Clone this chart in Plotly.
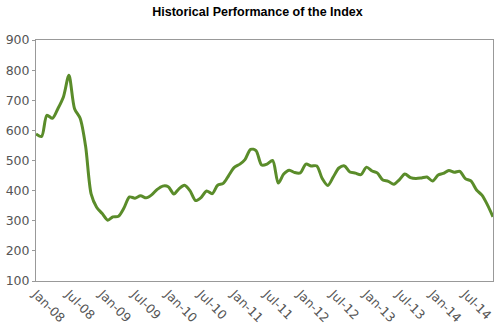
import pandas as pd
import plotly.graph_objects as go

title_text = "Historical Performance of the Index"
start_month = "2008-01-01"
n_months = 84
index_values = [
    588, 580, 650, 640, 672, 712, 783, 672, 640, 548, 388, 345,   # 2008
    324, 302, 313, 315, 342, 379, 375, 383, 376, 386, 404, 415,   # 2009
    413, 389, 406, 418, 400, 367, 377, 399, 390, 418, 424, 450,   # 2010
    477, 488, 503, 537, 533, 485, 488, 500, 425, 455, 468, 460,   # 2011
    459, 488, 482, 482, 440, 417, 445, 475, 482, 462, 458, 453,   # 2012
    478, 465, 459, 435, 431, 421, 436, 455, 443, 440, 442, 445,   # 2013
    432, 452, 457, 467, 461, 464, 440, 432, 402, 385, 352, 313,   # 2014
]
months = pd.date_range(start_month, periods=n_months, freq="MS")
y_ticks = [100, 200, 300, 400, 500, 600, 700, 800, 900]

fig = go.Figure()
fig.add_trace(go.Scatter(
    x=months, y=index_values, mode="lines",
    line=dict(color="#5a8c2a", width=3, shape="spline", smoothing=0.8),
    hoverinfo="skip", showlegend=False,
))

axis_font = dict(family="DejaVu Sans", size=12.5, color="#555555")
fig.update_layout(
    width=500, height=331,
    margin=dict(l=34, r=6, t=40, b=41),
    paper_bgcolor="white", plot_bgcolor="white",
    title=dict(text="<b>" + title_text + "</b>", x=0.515, xanchor="center",
               y=1 - 12 / 331, yanchor="middle",
               font=dict(family="Liberation Sans, Arial", size=12.5, color="#000000")),
    xaxis=dict(
        range=[months[0], months[-1]], tickformat="%b-%y", dtick="M6",
        tick0=start_month, tickangle=45, tickfont=axis_font,
        showgrid=False, zeroline=False, showline=True, linecolor="#999999",
        linewidth=1, mirror=True, ticks="", fixedrange=True,
    ),
    yaxis=dict(
        range=[100, 900], tickvals=y_ticks, tickfont=axis_font,
        showgrid=False, zeroline=False, showline=True, linecolor="#999999",
        linewidth=1, mirror=True, ticks="outside", ticklen=3, tickcolor="#999999",
        fixedrange=True,
    ),
)
fig.write_html("out.html", config={"displayModeBar": False})
